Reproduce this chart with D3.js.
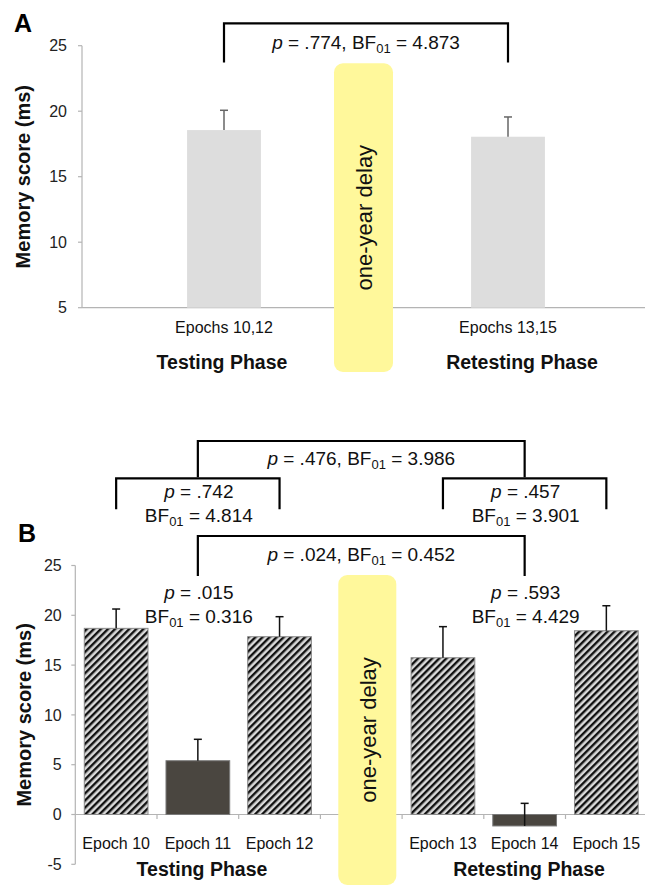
<!DOCTYPE html>
<html>
<head>
<meta charset="utf-8">
<script src="https://cdn.jsdelivr.net/npm/d3@7"></script>
<style>
  html, body { margin: 0; padding: 0; background: #fff; }
  svg { display: block; font-family: "Liberation Sans", Arial, sans-serif; }
  .tick-label { font-size: 16px; fill: #222; }
  .cat-label { font-size: 16px; fill: #111; }
  .stat { font-size: 19px; fill: #111; }
  .phase { font-size: 19.5px; font-weight: bold; fill: #111; }
  .ylabel { font-size: 20px; font-weight: bold; fill: #111; }
  .letter { font-size: 25px; font-weight: bold; fill: #000; }
  .delay { font-size: 22px; fill: #111; }
</style>
</head>
<body>
<svg width="645" height="888"></svg>
<script>
// ---- data ----
const phaseCategories = ["Epochs 10,12", "Epochs 13,15"];
const phaseMeans = [18.56, 18.05];
const phaseErrors = [1.51, 1.51];
const phaseTicks = [5, 10, 15, 20, 25];
const phaseNames = ["Testing Phase", "Retesting Phase"];

const epochCategories = ["Epoch 10", "Epoch 11", "Epoch 12", "Epoch 13", "Epoch 14", "Epoch 15"];
const epochMeans = [18.69, 5.40, 17.85, 15.74, -1.15, 18.45];
const epochErrors = [1.94, 2.15, 2.01, 3.12, 2.27, 2.51];
const epochCondition = ["old", "new", "old", "old", "new", "old"];
const epochTicks = [-5, 0, 5, 10, 15, 20, 25];

const statsA = [{ from: "Epochs 10,12", to: "Epochs 13,15", p: ".774", bf: "4.873" }];
const bracketsB = [
  { from: "Epoch 11", to: "Epoch 14", p: ".476", bf: "3.986", level: "top" },
  { from: "Epoch 10", to: "Epoch 12", p: ".742", bf: "4.814", level: "sub" },
  { from: "Epoch 13", to: "Epoch 15", p: ".457", bf: "3.901", level: "sub" },
  { from: "Epoch 11", to: "Epoch 14", p: ".024", bf: "0.452", level: "mid" }
];
const labelsB = [
  { at: "Epoch 11", p: ".015", bf: "0.316" },
  { at: "Epoch 14", p: ".593", bf: "4.429" }
];

const svg = d3.select("svg");
const axisColor = "#b4b4b4";

// stat text helpers
function addP(t, p) {
  t.append("tspan").attr("font-style", "italic").text("p");
  t.append("tspan").text(" = " + p);
}
function addBF(t, bf) {
  t.append("tspan").text("BF");
  t.append("tspan").attr("font-size", 13).attr("dy", 4).text("01");
  t.append("tspan").attr("dy", -4).text(" = " + bf);
}
function statLine(g, x, y, s) {
  const t = g.append("text").attr("class", "stat").attr("x", x).attr("y", y).attr("text-anchor", "middle");
  addP(t, s.p);
  t.append("tspan").text(", ");
  addBF(t, s.bf);
}
function statTwoLines(g, x, y1, y2, s) {
  const t1 = g.append("text").attr("class", "stat").attr("x", x).attr("y", y1).attr("text-anchor", "middle");
  addP(t1, s.p);
  const t2 = g.append("text").attr("class", "stat").attr("x", x).attr("y", y2).attr("text-anchor", "middle");
  addBF(t2, s.bf);
}
function bracket(g, x1, x2, yTop, yBot) {
  g.append("path")
    .attr("d", `M${x1},${yBot}V${yTop}H${x2}V${yBot}`)
    .attr("fill", "none").attr("stroke", "#000").attr("stroke-width", 2.2);
}
function delayBox(g, x, w, y1, y2) {
  g.append("rect").attr("x", x).attr("y", y1).attr("width", w).attr("height", y2 - y1)
    .attr("rx", 9).attr("fill", "#fff89b");
  g.append("text").attr("class", "delay")
    .attr("transform", `translate(${x + w / 2 + 8.5},${(y1 + y2) / 2}) rotate(-90)`)
    .attr("text-anchor", "middle").text("one-year delay");
}
function yAxis(g, y, x0, ticks, labelGap) {
  g.append("line").attr("x1", x0).attr("x2", x0)
    .attr("y1", y(d3.max(ticks))).attr("y2", y(d3.min(ticks)))
    .attr("stroke", axisColor).attr("stroke-width", 1.2);
  g.selectAll(".ytick").data(ticks).join("line")
    .attr("x1", x0 - 4).attr("x2", x0).attr("y1", d => y(d)).attr("y2", d => y(d))
    .attr("stroke", axisColor).attr("stroke-width", 1.2);
  g.selectAll(".ylab").data(ticks).join("text")
    .attr("class", "tick-label").attr("text-anchor", "end")
    .attr("x", x0 - labelGap).attr("y", d => y(d)).attr("dy", "0.35em")
    .text(d => d);
}

// ================= Panel A =================
const gA = svg.append("g");
const yA = d3.scaleLinear().domain([5, 25]).range([307.7, 45.7]);
const xA = d3.scaleBand().domain(phaseCategories).range([82, 650]).padding(0);
const barWA = xA.bandwidth() * 0.26;

yAxis(gA, yA, 82, phaseTicks, 15);
gA.append("line").attr("x1", 82).attr("x2", 650).attr("y1", yA(5)).attr("y2", yA(5))
  .attr("stroke", axisColor).attr("stroke-width", 1.2);

gA.selectAll(".bar").data(phaseCategories).join("rect")
  .attr("x", d => xA(d) + xA.bandwidth() / 2 - barWA / 2)
  .attr("width", barWA)
  .attr("y", (d, i) => yA(phaseMeans[i]))
  .attr("height", (d, i) => yA(5) - yA(phaseMeans[i]))
  .attr("fill", "#dddddd");

phaseCategories.forEach((c, i) => {
  const cx = xA(c) + xA.bandwidth() / 2;
  const top = yA(phaseMeans[i] + phaseErrors[i]);
  gA.append("line").attr("x1", cx).attr("x2", cx).attr("y1", yA(phaseMeans[i])).attr("y2", top)
    .attr("stroke", "#666").attr("stroke-width", 1.5);
  gA.append("line").attr("x1", cx - 4).attr("x2", cx + 4).attr("y1", top).attr("y2", top)
    .attr("stroke", "#666").attr("stroke-width", 1.5);
  gA.append("text").attr("class", "cat-label").attr("text-anchor", "middle")
    .attr("x", cx).attr("y", 332.7).text(c);
});

delayBox(gA, 334, 59, 63.3, 372);

statsA.forEach(s => {
  const x1 = xA(s.from) + xA.bandwidth() / 2, x2 = xA(s.to) + xA.bandwidth() / 2;
  bracket(gA, x1, x2, 23.3, 62.5);
  statLine(gA, (x1 + x2) / 2, 49, s);
});

gA.append("text").attr("class", "phase").attr("text-anchor", "middle").attr("x", 222).attr("y", 369).text(phaseNames[0]);
gA.append("text").attr("class", "phase").attr("text-anchor", "middle").attr("x", 522).attr("y", 369).text(phaseNames[1]);
gA.append("text").attr("class", "ylabel").attr("text-anchor", "middle")
  .attr("transform", `translate(30,${(yA(5) + yA(25)) / 2}) rotate(-90)`).text("Memory score (ms)");
gA.append("text").attr("class", "letter").attr("x", 14).attr("y", 32).text("A");

// ================= Panel B =================
const gB = svg.append("g");
const defs = svg.append("defs");
const pat = defs.append("pattern").attr("id", "hatch").attr("patternUnits", "userSpaceOnUse")
  .attr("width", 5).attr("height", 5).attr("patternTransform", "rotate(45)");
pat.append("rect").attr("width", 5).attr("height", 5).attr("fill", "#dadada");
pat.append("rect").attr("width", 2.4).attr("height", 5).attr("fill", "#111");

const bandDomain = epochCategories.slice(0, 3).concat(["delay"], epochCategories.slice(3));
const yB = d3.scaleLinear().domain([-5, 25]).range([864.3, 565.5]);
const xB = d3.scaleBand().domain(bandDomain).range([75.3, 647.2]).padding(0);
const barWB = xB.bandwidth() * 0.78;
const cB = d => xB(d) + xB.bandwidth() / 2;

yAxis(gB, yB, 75.3, epochTicks, 13.6);
gB.append("line").attr("x1", 75.3).attr("x2", 650).attr("y1", yB(0)).attr("y2", yB(0))
  .attr("stroke", axisColor).attr("stroke-width", 1.2);
gB.selectAll(".xtick").data(bandDomain.slice(1).concat([null])).join("line")
  .attr("x1", (d, i) => xB.range()[0] + xB.step() * (i + 1))
  .attr("x2", (d, i) => xB.range()[0] + xB.step() * (i + 1))
  .attr("y1", yB(0)).attr("y2", yB(0) + 4.5)
  .attr("stroke", axisColor).attr("stroke-width", 1.2);

gB.selectAll(".bar").data(epochCategories).join("rect")
  .attr("x", d => cB(d) - barWB / 2)
  .attr("width", barWB)
  .attr("y", (d, i) => Math.min(yB(epochMeans[i]), yB(0)))
  .attr("height", (d, i) => Math.abs(yB(0) - yB(epochMeans[i])))
  .attr("fill", (d, i) => epochCondition[i] === "old" ? "url(#hatch)" : "#4a4640")
  .attr("stroke", (d, i) => epochCondition[i] === "old" ? "#8a8a8a" : "#7a7a7a")
  .attr("stroke-width", 1);

epochCategories.forEach((c, i) => {
  const cx = cB(c);
  const top = yB(epochMeans[i] + epochErrors[i]);
  gB.append("line").attr("x1", cx).attr("x2", cx).attr("y1", yB(epochMeans[i])).attr("y2", top)
    .attr("stroke", "#111").attr("stroke-width", 1.5);
  gB.append("line").attr("x1", cx - 4).attr("x2", cx + 4).attr("y1", top).attr("y2", top)
    .attr("stroke", "#111").attr("stroke-width", 1.5);
  gB.append("text").attr("class", "cat-label").attr("text-anchor", "middle")
    .attr("x", cx).attr("y", 849).text(c);
});

delayBox(gB, 338.3, 58, 575, 885);

const levelY = { top: [441, 477.3], sub: [478.3, 509.3], mid: [536, 576] };
bracketsB.forEach(s => {
  const x1 = cB(s.from), x2 = cB(s.to);
  const [yt, yb] = levelY[s.level];
  bracket(gB, x1, x2, yt, yb);
  if (s.level === "sub") statTwoLines(gB, (x1 + x2) / 2 + 1, 497.7, 521.7, s);
  else statLine(gB, (x1 + x2) / 2, s.level === "top" ? 465 : 560.5, s);
});
labelsB.forEach(s => statTwoLines(gB, cB(s.at) + 1, 599.3, 623.3, s));

gB.append("text").attr("class", "phase").attr("text-anchor", "middle").attr("x", 202).attr("y", 876).text(phaseNames[0]);
gB.append("text").attr("class", "phase").attr("text-anchor", "middle").attr("x", 529).attr("y", 876).text(phaseNames[1]);
gB.append("text").attr("class", "ylabel").attr("text-anchor", "middle")
  .attr("transform", `translate(31,${(yB(-5) + yB(25)) / 2}) rotate(-90)`).text("Memory score (ms)");
gB.append("text").attr("class", "letter").attr("x", 18).attr("y", 542).text("B");
</script>
</body>
</html>
